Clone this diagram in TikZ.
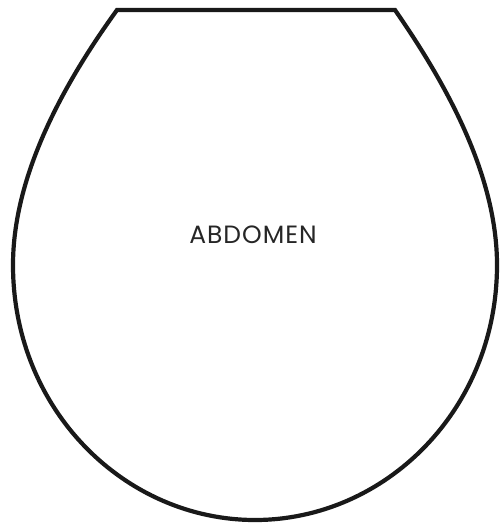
\documentclass[tikz,border=0pt]{standalone}
\usepackage{fontspec}
\setmainfont{Poppins}[LetterSpace=4]
\begin{document}
\begin{tikzpicture}[x=1pt,y=-1pt,
  outline/.style={draw=black!90,line width=4.2pt,line join=miter},
  lbl/.style={font=\fontsize{25}{28}\selectfont,text=black!85}]
\useasboundingbox (0,0) rectangle (503,525);
\coordinate (tl) at (117,10);
\coordinate (tr) at (395,10);
\coordinate (r) at (497,265);
\coordinate (b) at (255,520);
\coordinate (l) at (13,265);
\draw[outline] (tl) -- (tr)
  .. controls (440,75) and (497,170) .. (r)
  .. controls (497,410) and (385,520) .. (b)
  .. controls (125,520) and (13,410) .. (l)
  .. controls (13,170) and (70,75) .. cycle;
\node[lbl] (t) at (253,235) {ABDOMEN};
\end{tikzpicture}
\end{document}
